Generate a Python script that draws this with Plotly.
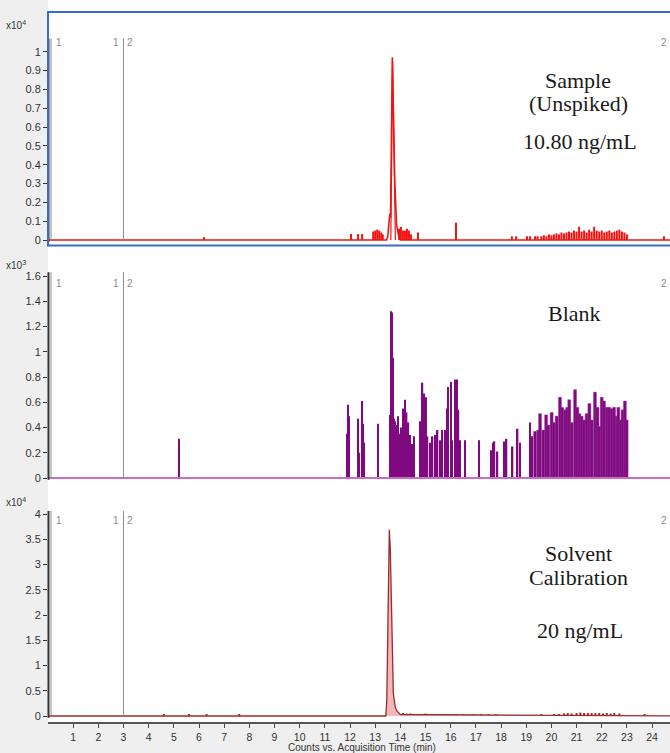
import plotly.graph_objects as go

W, H = 670, 753

# ---------------- data ----------------
x_ticks = list(range(1, 25))

# Panel 1: Sample (Unspiked), counts x10^4
sample_yticks = [0, 0.1, 0.2, 0.3, 0.4, 0.5, 0.6, 0.7, 0.8, 0.9, 1.0]
sample_yticklabels = ["0", "0.1", "0.2", "0.3", "0.4", "0.5", "0.6", "0.7", "0.8", "0.9", "1"]
sample_peak_t = [0.0, 13.45, 13.50, 13.55, 13.58, 13.61, 13.64, 13.68, 13.72, 13.78, 13.85, 13.92, 14.0, 25.0]
sample_peak_a = [0, 0, 0.02, 0.10, 0.14, 0.12, 0.55, 0.97, 0.70, 0.30, 0.08, 0.03, 0, 0]
sample_inner_t = [13.62, 13.69, 13.80]
sample_inner_a = [0, 0.95, 0]
sample_noise_t = [6.2, 12.04, 12.32, 12.48, 12.92, 13.0, 13.08, 13.16, 13.24, 13.3,
                  13.95, 14.02, 14.1, 14.18, 14.26, 14.34, 14.42, 14.7, 16.21,
                  18.43, 18.6, 19.03, 19.15, 19.35, 19.45,
                  19.6, 19.7, 19.8, 19.9, 20.0, 20.1, 20.2, 20.3, 20.4, 20.5,
                  20.6, 20.7, 20.8, 20.9, 21.0, 21.1, 21.2, 21.3, 21.4, 21.5,
                  21.6, 21.7, 21.8, 21.9, 22.0, 22.1, 22.2, 22.3, 22.4, 22.5,
                  22.6, 22.7, 22.8, 22.9, 23.0, 24.47]
sample_noise_a = [0.015, 0.032, 0.032, 0.032, 0.045, 0.05, 0.055, 0.05, 0.04, 0.03,
                  0.06, 0.07, 0.05, 0.05, 0.06, 0.05, 0.03, 0.04, 0.092,
                  0.02, 0.02, 0.02, 0.02, 0.02, 0.02,
                  0.02, 0.025, 0.02, 0.03, 0.025, 0.03, 0.035, 0.03, 0.04, 0.035,
                  0.04, 0.045, 0.04, 0.05, 0.045, 0.07, 0.045, 0.05, 0.04, 0.055,
                  0.045, 0.07, 0.05, 0.045, 0.05, 0.04, 0.045, 0.05, 0.04, 0.045,
                  0.05, 0.055, 0.045, 0.04, 0.03, 0.02]

# Panel 2: Blank, counts x10^3
blank_yticks = [0, 0.2, 0.4, 0.6, 0.8, 1.0, 1.2, 1.4, 1.6]
blank_yticklabels = ["0", "0.2", "0.4", "0.6", "0.8", "1", "1.2", "1.4", "1.6"]
blank_t = [5.2, 11.88, 11.92, 11.96, 12.33, 12.37, 12.49, 12.53, 12.57, 13.12,
           13.58, 13.62, 13.66, 13.70, 13.74, 13.79, 13.85, 13.91, 13.98, 14.05,
           14.12, 14.18, 14.25, 14.32, 14.38, 14.45, 14.55, 14.78, 14.88, 14.94,
           15.02, 15.08, 15.18, 15.28, 15.38, 15.48, 15.57, 15.67, 15.77, 15.84,
           15.90, 16.0, 16.06, 16.19, 16.25, 16.31, 16.37, 16.57, 17.12, 17.59,
           17.67, 17.74, 17.86, 18.12, 18.22, 18.46, 18.66, 18.75, 19.15, 19.23]
blank_a = [0.31, 0.35, 0.58, 0.49, 0.47, 0.20, 0.61, 0.43, 0.28, 0.43,
           0.50, 1.32, 1.31, 0.95, 0.47, 0.45, 0.42, 0.49, 0.35, 0.40,
           0.55, 0.62, 0.52, 0.44, 0.34, 0.27, 0.33, 0.45, 0.755, 0.67,
           0.64, 0.33, 0.28, 0.33, 0.34, 0.38, 0.30, 0.38, 0.38, 0.55,
           0.72, 0.76, 0.30, 0.78, 0.78, 0.54, 0.30, 0.30, 0.30, 0.22,
           0.28, 0.29, 0.21, 0.29, 0.31, 0.25, 0.39, 0.28, 0.44, 0.33]
blank_dense_t = [19.35, 19.48, 19.55, 19.68, 19.79, 19.88, 20.01, 20.10, 20.21, 20.34,
                 20.43, 20.54, 20.63, 20.71, 20.81, 20.94, 21.03, 21.11, 21.20, 21.30,
                 21.40, 21.51, 21.60, 21.73, 21.83, 21.90, 22.00, 22.09, 22.20, 22.30,
                 22.40, 22.49, 22.59, 22.66, 22.75, 22.83, 22.92, 22.99]
blank_dense_a = [0.37, 0.38, 0.51, 0.38, 0.50, 0.42, 0.52, 0.44, 0.49, 0.64,
                 0.56, 0.54, 0.56, 0.62, 0.44, 0.70, 0.56, 0.51, 0.49, 0.46,
                 0.51, 0.59, 0.46, 0.68, 0.56, 0.41, 0.64, 0.61, 0.56, 0.56,
                 0.55, 0.56, 0.49, 0.56, 0.46, 0.54, 0.61, 0.46]
blank_base_t = [0.0, 25.0]
blank_base_a = [0, 0]

# Panel 3: Solvent calibration, counts x10^4
calib_yticks = [0, 0.5, 1, 1.5, 2, 2.5, 3, 3.5, 4]
calib_yticklabels = ["0", "0.5", "1", "1.5", "2", "2.5", "3", "3.5", "4"]
calib_t = [0.0, 13.42, 13.46, 13.50, 13.56, 13.60, 13.64, 13.68, 13.72, 13.76, 13.80, 13.86, 13.92, 14.0, 25.0]
calib_a = [0, 0, 0.3, 2.2, 3.69, 3.3, 2.2, 1.0, 0.45, 0.3, 0.17, 0.1, 0.06, 0.03, 0]
calib_noise_t = [4.6, 5.6, 6.3, 7.6, 14.1, 14.25, 14.4, 14.55, 14.7, 15.0, 15.15,
                 15.9, 16.2, 16.5, 16.9, 17.2, 17.5, 17.8, 19.6, 20.1, 20.3, 20.5,
                 20.65, 20.8, 21.0, 21.15, 21.3, 21.45, 21.6, 21.75, 21.9, 22.05,
                 22.2, 22.35, 22.5, 22.7, 23.7]
calib_noise_a = [0.02, 0.03, 0.02, 0.02, 0.06, 0.05, 0.05, 0.04, 0.04, 0.05, 0.04,
                 0.03, 0.03, 0.03, 0.03, 0.03, 0.03, 0.02, 0.02, 0.03, 0.04, 0.05,
                 0.06, 0.05, 0.06, 0.07, 0.06, 0.06, 0.06, 0.06, 0.06, 0.05,
                 0.06, 0.05, 0.06, 0.05, 0.02]

# ---------------- geometry helpers ----------------
def pxx(x):
    return x / W

def pyy(y):
    return 1 - y / H

X0 = 48.0
PX_PER_MIN = 25.17
x_range = [0, (W - X0) / PX_PER_MIN]

panels = [
    dict(top=12, bottom=246, zero=240, ppu=188.3, axis_top=1.07),
    dict(top=252, bottom=484, zero=478, ppu=126.25, axis_top=1.63),
    dict(top=490, bottom=722, zero=716, ppu=50.5, axis_top=4.06),
]
for p in panels:
    p["range"] = [(p["zero"] - p["bottom"]) / p["ppu"], (p["zero"] - p["top"]) / p["ppu"]]
    p["domain"] = [pyy(p["bottom"]), pyy(p["top"])]

fig = go.Figure()

RED = "#f01414"
PURPLE = "#7f0a80"
DRED = "#9e2a2a"

# Panel 1
fig.add_trace(go.Bar(x=sample_noise_t, y=sample_noise_a, width=0.08,
                     marker=dict(color=RED, line=dict(width=0)), xaxis="x", yaxis="y"))
fig.add_trace(go.Scatter(x=sample_peak_t, y=sample_peak_a, mode="lines",
                         line=dict(color=RED, width=1.6), xaxis="x", yaxis="y"))
fig.add_trace(go.Scatter(x=sample_inner_t, y=sample_inner_a, mode="lines",
                         line=dict(color=RED, width=1.2), xaxis="x", yaxis="y"))

# Panel 2
fig.add_trace(go.Scatter(x=blank_base_t, y=blank_base_a, mode="lines",
                         line=dict(color="#c86cc8", width=2), xaxis="x2", yaxis="y2"))
fig.add_trace(go.Bar(x=blank_t, y=blank_a, width=0.055,
                     marker=dict(color=PURPLE, line=dict(width=0)), xaxis="x2", yaxis="y2"))
fig.add_trace(go.Bar(x=blank_dense_t, y=blank_dense_a, width=0.12,
                     marker=dict(color=PURPLE, line=dict(width=0.4, color="#a040a0")),
                     xaxis="x2", yaxis="y2"))

# Panel 3
fig.add_trace(go.Bar(x=calib_noise_t, y=calib_noise_a, width=0.08,
                     marker=dict(color=DRED, line=dict(width=0)), xaxis="x3", yaxis="y3"))
fig.add_trace(go.Scatter(x=calib_t, y=calib_a, mode="lines", fill="tozeroy",
                         fillcolor="#efb9b9", line=dict(color=DRED, width=1.3),
                         xaxis="x3", yaxis="y3"))

fig.update_traces(showlegend=False, hoverinfo="skip")

axis_common = dict(showgrid=False, zeroline=False, fixedrange=True)
tickfont = dict(family="Liberation Sans, Arial, sans-serif", size=11, color="#333333")
xtickfont = dict(family="Liberation Sans, Arial, sans-serif", size=10.5, color="#333333")

layout = dict(
    width=W, height=H,
    margin=dict(l=0, r=0, t=0, b=0),
    paper_bgcolor="#efefef",
    plot_bgcolor="rgba(0,0,0,0)",
    barmode="overlay",
    showlegend=False,
)
for i, p in enumerate(panels):
    xa = "xaxis" if i == 0 else f"xaxis{i+1}"
    ya = "yaxis" if i == 0 else f"yaxis{i+1}"
    yid = "y" if i == 0 else f"y{i+1}"
    xid = "x" if i == 0 else f"x{i+1}"
    layout[xa] = dict(domain=[pxx(X0), 1], range=x_range, anchor=yid,
                      showticklabels=False, ticks="", showline=False, **axis_common)
    layout[ya] = dict(domain=p["domain"], range=p["range"], anchor=xid,
                      showline=False, ticks="outside", ticklen=4, tickwidth=1,
                      tickcolor="#333333", tickfont=tickfont, **axis_common)

layout["yaxis"].update(tickvals=sample_yticks, ticktext=sample_yticklabels)
layout["yaxis2"].update(tickvals=blank_yticks, ticktext=blank_yticklabels)
layout["yaxis3"].update(tickvals=calib_yticks, ticktext=calib_yticklabels)
layout["xaxis3"].update(showticklabels=True, ticks="outside", ticklen=4, tickwidth=1,
                        tickcolor="#444444", tickvals=x_ticks, tickfont=xtickfont,
                        showline=True, linecolor="#555555", linewidth=2)
fig.update_layout(**layout)

shapes = []
shapes.append(dict(type="rect", xref="paper", yref="paper", x0=pxx(X0), x1=1,
                   y0=pyy(722), y1=1, fillcolor="white", line=dict(width=0), layer="below"))
for i, p in enumerate(panels):
    xid = "x" if i == 0 else f"x{i+1}"
    yid = "y" if i == 0 else f"y{i+1}"
    for t in (0.12, 3.0):
        shapes.append(dict(type="line", xref=xid, yref=yid, x0=t, x1=t, y0=0, y1=p["axis_top"],
                           line=dict(color="#8c8c8c", width=1)))
    shapes.append(dict(type="line", xref="paper", yref=yid, x0=pxx(X0 + 0.5), x1=pxx(X0 + 0.5),
                       y0=p["range"][0] * 0.3, y1=p["axis_top"], line=dict(color="#333333", width=2)))
shapes.append(dict(type="rect", xref="paper", yref="paper", x0=pxx(X0), x1=pxx(W + 2),
                   y0=pyy(245.5), y1=pyy(12), line=dict(color="#3b6cc0", width=2),
                   fillcolor="rgba(0,0,0,0)"))
fig.update_layout(shapes=shapes)

ann = []
serif = dict(family="Liberation Serif, Times New Roman, serif", size=22, color="#1a1a1a")
def label(text, x, y):
    ann.append(dict(text=text, x=pxx(x), y=pyy(y), xref="paper", yref="paper",
                    showarrow=False, xanchor="center", yanchor="middle", font=serif))

label("Sample", 578, 80)
label("(Unspiked)", 578, 104)
label("10.80 ng/mL", 580, 141)
label("Blank", 574, 313)
label("Solvent", 578, 553)
label("Calibration", 578, 577)
label("20 ng/mL", 580, 630)

small = dict(family="Liberation Sans, Arial, sans-serif", size=10, color="#333333")
marker_font = dict(family="Liberation Sans, Arial, sans-serif", size=10, color="#8a8a8a")
for mult_y, exp, mark_y in ((25, "4", 43), (265, "3", 283), (502, "4", 520)):
    ann.append(dict(text=f"x10<sup>{exp}</sup>", x=pxx(4), y=pyy(mult_y), xref="paper", yref="paper",
                    showarrow=False, xanchor="left", yanchor="middle", font=small))
    ann.append(dict(text="1", x=pxx(54), y=pyy(mark_y), xref="paper", yref="paper",
                    showarrow=False, xanchor="left", yanchor="middle", font=marker_font))
    ann.append(dict(text="1", x=pxx(121), y=pyy(mark_y), xref="paper", yref="paper",
                    showarrow=False, xanchor="right", yanchor="middle", font=marker_font))
    ann.append(dict(text="2", x=pxx(125), y=pyy(mark_y), xref="paper", yref="paper",
                    showarrow=False, xanchor="left", yanchor="middle", font=marker_font))
    ann.append(dict(text="2", x=pxx(669), y=pyy(mark_y), xref="paper", yref="paper",
                    showarrow=False, xanchor="right", yanchor="middle", font=marker_font))

ann.append(dict(text="Counts vs. Acquisition Time (min)", x=pxx(362), y=pyy(747.5),
                xref="paper", yref="paper", showarrow=False, xanchor="center", yanchor="middle",
                font=dict(family="Liberation Sans, Arial, sans-serif", size=10, color="#333333")))
fig.update_layout(annotations=ann)

fig.write_html("out.html")
